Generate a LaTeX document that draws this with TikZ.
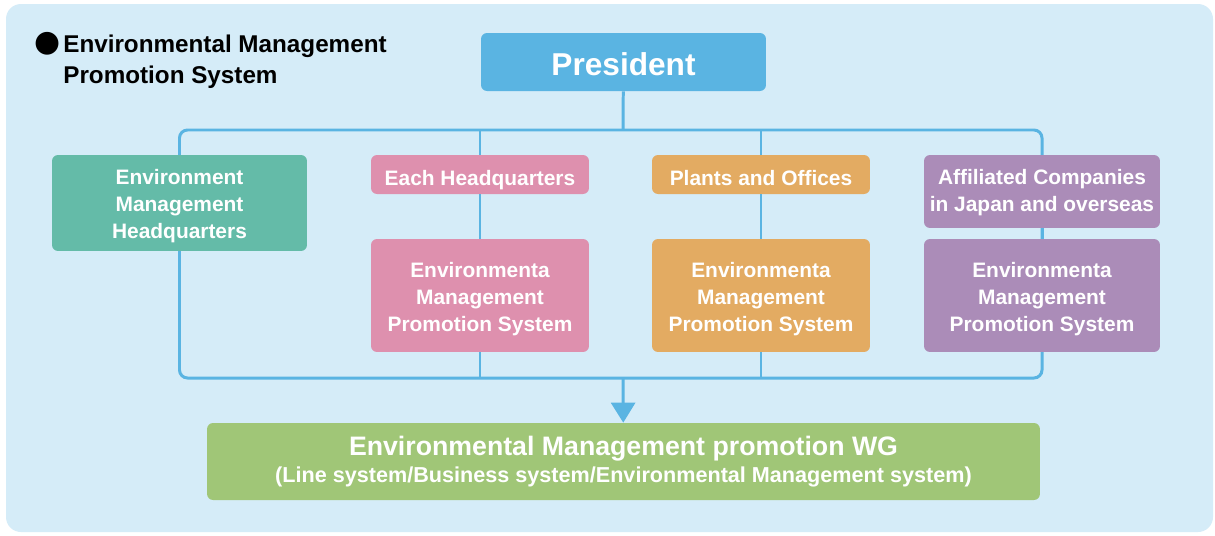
\documentclass[tikz,border=0pt]{standalone}
\usepackage{fontspec}
\setmainfont{Liberation Sans}
\newfontfamily\dotfont{DejaVu Sans}
\usepackage{xcolor}
\usepackage{tikz}
\usetikzlibrary{arrows.meta,backgrounds}

\definecolor{bgblue}{HTML}{D5ECF8}
\definecolor{lineblue}{HTML}{5AB4E2}
\definecolor{presblue}{HTML}{5AB4E2}
\definecolor{hqgreen}{HTML}{64BBA8}
\definecolor{pinkbox}{HTML}{DE90AE}
\definecolor{orangebox}{HTML}{E3AB62}
\definecolor{purplebox}{HTML}{AB8CB8}
\definecolor{wggreen}{HTML}{A0C677}

\newcommand\boxtextfont{\bfseries\fontsize{11.9}{15.3}\selectfont}
\newcommand\ttlfont{\bfseries\fontsize{13.8}{17.2}\selectfont}
\newcommand\presfont{\bfseries\fontsize{18}{20}\selectfont}
\newcommand\wgfont{\bfseries\fontsize{15.2}{18}\selectfont}
\newcommand\wgsubfont{\bfseries\fontsize{12.3}{15}\selectfont}

\begin{document}
\begin{tikzpicture}[x=0.02cm,y=-0.02cm,>={Triangle[width=4.8mm,length=4mm]},
	box/.style={rectangle,rounded corners=1.2mm,inner sep=0pt},
	boxtext/.style={text=white,align=center,inner sep=0pt,font=\boxtextfont,yshift=#1},
	boxtext/.default=-1.9pt,
	link/.style={color=lineblue,line width=1.7pt}]
	
	\node[inner sep=0pt,font=\dotfont\fontsize{17}{17}\selectfont] (dot) at (48,44) {●};
	\node[anchor=north west,inner sep=0pt,font=\ttlfont,align=left] (title) at (63,35) {Environmental Management\\Promotion System};
	
	\node[box,fill=presblue,minimum width=5.7cm,minimum height=1.16cm,
	label={[boxtext=-1.2pt,font=\presfont]center:President}] (pres) at (623.5,62) {};
	\node[box,fill=hqgreen,minimum width=5.1cm,minimum height=1.92cm,
	label={[boxtext=-1.8pt]center:Environment\\Management\\Headquarters}] (hq) at (179.5,203) {};
	
	\foreach \i/\x/\col/\name in {1/480/pinkbox/Each Headquarters,2/761/orangebox/Plants and Offices}{
		\node[box,fill=\col,minimum width=4.36cm,minimum height=0.78cm,
		label={[boxtext,text depth=0pt]center:\name}] (top\i) at (\x,174.5) {};
	}
	\node[box,fill=purplebox,minimum width=4.72cm,minimum height=1.46cm,
	label={[boxtext=-0.8pt]center:Affiliated Companies\\in Japan and overseas}] (top3) at (1042,191.5) {};
	
	\foreach \i/\x/\col/\w in {1/480/pinkbox/4.36cm,2/761/orangebox/4.36cm,3/1042/purplebox/4.72cm}{
		\node[box,fill=\col,minimum width=\w,minimum height=2.26cm,
		label={[boxtext]center:Environmenta\\Management\\Promotion System}] (sys\i) at (\x,295.5) {};
	}
	
	\node[box,fill=wggreen,minimum width=16.66cm,minimum height=1.54cm,
	label={[boxtext=0pt]center:{\wgfont Environmental Management promotion WG}\\{\wgsubfont (Line system/Business system/Environmental Management system)}}] 
	(wg) at (623.5,461.5) {};
	
	\coordinate (bt) at (623,130);
	\coordinate (bb) at (623,378);
	
	\begin{scope}[on background layer]
		\fill[white] (0,0) rectangle (1215,535);
		\fill[bgblue,rounded corners=3mm] (6,4) rectangle (1213,532);
		\draw[link,rounded corners=1.6mm] (hq.center |- bt) rectangle (top3.center |- bb); % 外框
	\end{scope}
	
	\draw[link] (pres) -- (bt);
	\foreach \i in {1,2}{
		\draw[link] (top\i) -- (top\i |- bt);
		\draw[link] (top\i) -- (sys\i);
		\draw[link] (sys\i) -- (sys\i |- bb);}
	\draw[link] (top3) -- (sys3);
	\draw[link,->] (bb) -- (wg);
\end{tikzpicture}
\end{document}
